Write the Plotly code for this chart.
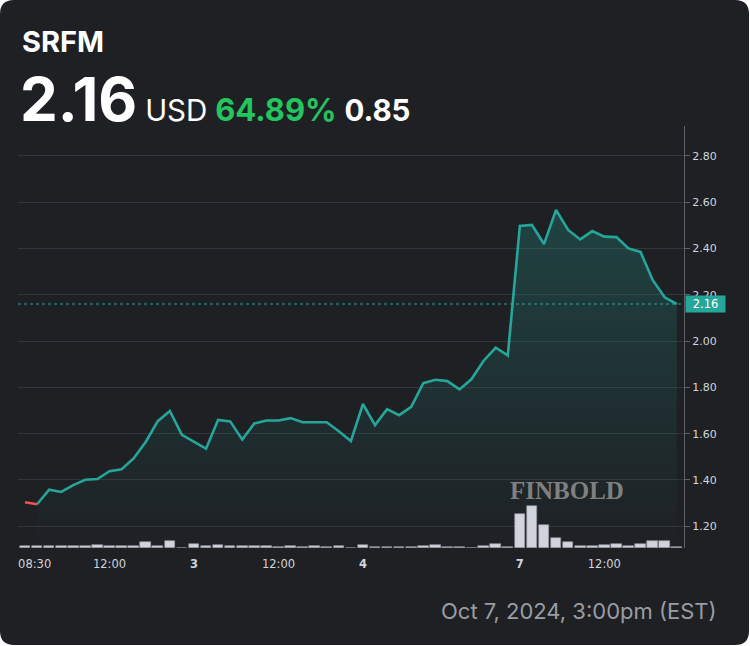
import plotly.graph_objects as go

# ---------------- data ----------------
price = [1.304, 1.295, 1.358, 1.348, 1.378, 1.401, 1.404, 1.438, 1.446, 1.493,
         1.564, 1.654, 1.698, 1.595, 1.565, 1.535, 1.659, 1.653, 1.575, 1.644,
         1.657, 1.657, 1.667, 1.649, 1.649, 1.649, 1.610, 1.568, 1.728, 1.637,
         1.706, 1.680, 1.716, 1.818, 1.833, 1.827, 1.791, 1.836, 1.915, 1.971,
         1.938, 2.497, 2.502, 2.419, 2.566, 2.480, 2.439, 2.475, 2.451, 2.449,
         2.400, 2.385, 2.264, 2.189, 2.160]
volume_k = [17, 17, 17, 17, 17, 17, 27, 17, 17, 17,
            60, 23, 70, 5, 40, 17, 33, 17, 17, 17,
            17, 7, 17, 7, 17, 7, 17, 5, 30, 13,
            13, 13, 13, 20, 30, 13, 13, 5, 20, 37,
            13, 340, 423, 230, 100, 60, 20, 20, 30, 37,
            20, 37, 70, 70, 13]
x_tick_pos = [0.8, 7, 14, 21, 28, 41, 48]
x_tick_text = ["08:30", "12:00", "<b>3</b>", "12:00", "<b>4</b>", "<b>7</b>", "12:00"]
y_ticks = [1.20, 1.40, 1.60, 1.80, 2.00, 2.20, 2.40, 2.60, 2.80]
ticker = "SRFM"
last_price = 2.16
change_pct = "64.89%"
change_abs = "0.85"
stamp = "Oct 7, 2024, 3:00pm (EST)"

# ---------------- layout constants ----------------
W, H = 750, 646
ML, MR, MT, MB = 18, 66, 126, 98
PW, PH = W - ML - MR, H - MT - MB
BG = "#1e2024"
TEAL = "#26a69a"
RED = "#ef5350"
TXT = "#d1d4dc"


def px_x(px):
    return (px - ML) / PW


def px_y(py):
    return (H - MB - py) / PH


n = len(price)
xs = list(range(n))

fig = go.Figure()

# volume bars
fig.add_trace(go.Bar(
    x=xs, y=volume_k, yaxis="y2", width=0.88,
    marker=dict(color="#d1d4dc", line=dict(width=0.6, color="#8f929a")),
    hoverinfo="skip", showlegend=False,
))

# price line (teal) with gradient fill
fig.add_trace(go.Scatter(
    x=xs[1:], y=price[1:], mode="lines",
    line=dict(color=TEAL, width=2.6),
    fill="tozeroy",
    fillgradient=dict(type="vertical", start=1.1, stop=2.57,
                      colorscale=[[0, "rgba(38,166,154,0.0)"], [1, "rgba(38,166,154,0.26)"]]),
    hoverinfo="skip", showlegend=False,
))
# first down-tick segment in red
fig.add_trace(go.Scatter(
    x=xs[:2], y=price[:2], mode="lines",
    line=dict(color=RED, width=2.6),
    hoverinfo="skip", showlegend=False,
))

# card background with rounded corners
r = 14
x0, x1, y0, y1 = 0, W - 1, 0, H - 1


def P(px, py):
    return f"{px_x(px):.5f},{px_y(py):.5f}"


path = (f"M {P(x0 + r, y0)} L {P(x1 - r, y0)} Q {P(x1, y0)} {P(x1, y0 + r)} "
        f"L {P(x1, y1 - r)} Q {P(x1, y1)} {P(x1 - r, y1)} "
        f"L {P(x0 + r, y1)} Q {P(x0, y1)} {P(x0, y1 - r)} "
        f"L {P(x0, y0 + r)} Q {P(x0, y0)} {P(x0 + r, y0)} Z")

shapes = [
    dict(type="path", path=path, xref="paper", yref="paper",
         fillcolor=BG, line=dict(width=0), layer="below"),
    dict(type="line", xref="paper", yref="y", x0=0, x1=1, y0=last_price, y1=last_price,
         line=dict(color=TEAL, width=1, dash="dot")),
]

annotations = [
    dict(text=f"<b>{ticker}</b>", x=px_x(20), y=px_y(41), xref="paper", yref="paper",
         xanchor="left", yanchor="middle", showarrow=False,
         font=dict(family="Inter", size=29, color="#ffffff")),
    dict(text=(f'<span style="font-size:60px;font-weight:bold">{last_price:.2f}</span> '
               f'<span style="font-size:29.5px">USD</span> '
               f'<span style="font-size:31px;font-weight:bold;color:#22c55e">{change_pct}</span> '
               f'<span style="font-size:29.5px;font-weight:bold">{change_abs}</span>'),
         x=px_x(18), y=px_y(99), xref="paper", yref="paper",
         xanchor="left", yanchor="middle", showarrow=False,
         font=dict(family="Inter", size=28, color="#ffffff")),
    dict(text=stamp, x=px_x(719), y=px_y(611), xref="paper", yref="paper",
         xanchor="right", yanchor="middle", showarrow=False,
         font=dict(family="Inter", size=22, color="#9a9da3")),
    dict(text="<b>FINBOLD</b>", x=px_x(567), y=px_y(490), xref="paper", yref="paper",
         xanchor="center", yanchor="middle", showarrow=False,
         font=dict(family="Liberation Serif, serif", size=25, color="#808080")),
    dict(text=f"{last_price:.2f}", x=1, y=last_price, xref="paper", yref="y",
         xanchor="left", yanchor="middle", showarrow=False, xshift=1,
         bgcolor=TEAL, borderpad=2, width=35, height=12, align="center",
         font=dict(family="DejaVu Sans", size=11.5, color="#ffffff")),
]

fig.update_layout(
    width=W, height=H,
    margin=dict(l=ML, r=MR, t=MT, b=MB, pad=0),
    paper_bgcolor="#ffffff",
    plot_bgcolor="rgba(0,0,0,0)",
    showlegend=False,
    bargap=0,
    shapes=shapes,
    annotations=annotations,
    xaxis=dict(range=[-0.58, 54.6], showgrid=False, zeroline=False,
               tickmode="array", tickvals=x_tick_pos, ticktext=x_tick_text,
               ticks="", showline=False, ticklabelstandoff=7,
               tickfont=dict(family="DejaVu Sans", size=11.5, color=TXT)),
    yaxis=dict(range=[1.106, 2.929], side="right", showgrid=True, gridcolor="#32353b",
               gridwidth=1, zeroline=False, tickmode="array", tickvals=y_ticks,
               ticktext=[f"{v:.2f}" for v in y_ticks],
               ticks="outside", ticklen=5, tickcolor="#5d6067",
               showline=True, linecolor="#5d6067", linewidth=1,
               tickfont=dict(family="DejaVu Sans", size=11, color=TXT)),
    yaxis2=dict(range=[0, 4220], overlaying="y", visible=False),
)

fig.write_html("out.html",
               config={"displayModeBar": False},
               post_script="document.body.style.margin='0';document.body.style.padding='0';")
